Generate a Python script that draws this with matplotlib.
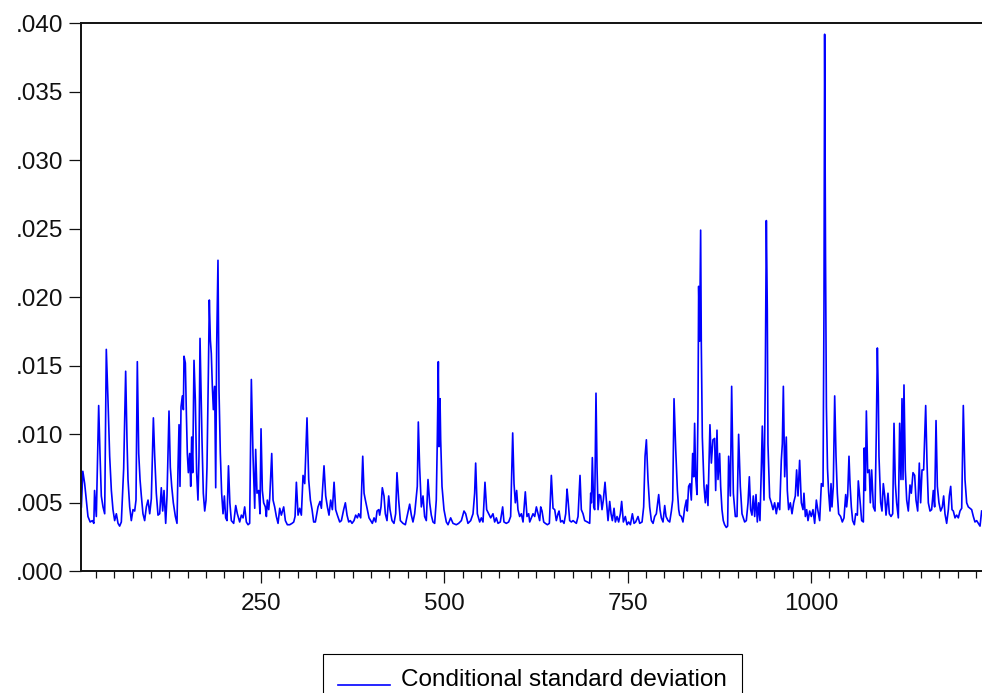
import matplotlib
matplotlib.use("Agg")
import matplotlib.pyplot as plt
from matplotlib.ticker import MultipleLocator, FixedLocator, FixedFormatter
from matplotlib.legend_handler import HandlerLine2D

plt.rcParams['font.family'] = ['Liberation Sans', 'DejaVu Sans']

obs_a = [5, 7, 9.5, 12, 14, 17, 20, 22, 23, 25.4, 28.6, 30.4, 32.2, 34.5, 36.8, 39, 41.3, 43.6, 45.9, 48.1,
         50.4, 52.7, 55, 57.2, 59.5, 62.7, 65.4, 67.2, 68.6, 70.9, 73.1, 75.4, 77.7, 79.5, 81.3, 83.2, 85, 86.8,
         89, 91.3, 93.6, 95.9, 98.2, 100.4, 103.2, 105, 107.2, 109.5, 111.8, 114, 115.9, 117.7, 120, 121.8,
         124.5, 126.3, 128.2, 130.4, 133.2, 135.4, 136.8, 138.2, 139.5, 140.9, 142.7, 144.1, 145, 146.8, 148.2,
         149.5, 150.9, 152.7, 154.1, 155.4, 156.8, 158.6, 160.4, 162.2, 164, 165.4, 166.8, 168.2, 169.5, 171.3,
         173.2, 175, 176.3, 178.2, 179.5, 180.9, 182.2, 183.6, 185, 186.8, 188.2, 189.5, 191.3, 192.7, 194.5,
         196.3, 198.2, 200, 201.8, 203.6, 205.6, 207.5, 209.5, 212.7, 215.5, 217.7, 220.9, 223.2, 225.5, 227.7,
         230, 232.3, 234.5, 236.8, 239.1, 241.4, 242.7, 244.5, 246.8, 248.6, 250, 251.8, 253.6, 255.9, 257.3,
         258.6, 260.5, 261.8, 264.6, 266.4, 268.6, 270.9, 273.2, 275.5, 277.7, 280.9, 283.2, 285.9, 289.1,
         292.3, 294.6, 296.4, 298.2, 300.5, 302.7, 305, 307.3, 309.6, 312.7, 315, 317.3, 319.6, 321.8, 324.1,
         327.7, 330.5, 332.3, 335.9, 338.2, 340.5, 342.7, 345, 347.3, 349.6, 351.8, 354.1, 357.3, 359.6, 362.7,
         365, 367.3, 369.6, 371.8, 374.1, 376.8, 379.1, 381.4, 383.2, 385.9, 388.7, 390.5, 392.3, 395, 397.3,
         399.6, 401.8, 404.1, 406.4, 408.2, 410.5]
sd_a = [.0047, .0073, .0064, .0051, .0040, .0036, .0037, .0035, .0059, .0040, .0121, .0086, .0055, .0047, .0042,
        .0162, .0125, .0084, .0059, .0045, .0037, .0042, .0035, .0033, .0036, .0075, .0146, .0096, .0067, .0047,
        .0037, .0045, .0044, .0052, .0153, .0086, .0067, .0055, .0042, .0037, .0047, .0052, .0042, .0053, .0112,
        .0084, .0057, .0041, .0042, .0061, .0044, .0059, .0035, .0055, .0117, .0076, .0062, .0050, .0040, .0035,
        .0076, .0107, .0062, .0120, .0128, .0118, .0157, .0152, .0115, .0086, .0072, .0086, .0062, .0098, .0072,
        .0154, .0125, .0072, .0052, .0084, .0170, .0132, .0096, .0057, .0044, .0052, .0076, .0145, .0198, .0169,
        .0159, .0135, .0118, .0135, .0061, .0164, .0227, .0132, .0086, .0057, .0042, .0055, .0039, .0037, .0077,
        .0050, .0037, .0035, .0048, .0042, .0036, .0041, .0039, .0047, .0036, .0034, .0035, .0140, .0084, .0046,
        .0089, .0057, .0059, .0042, .0104, .0059, .0050, .0047, .0040, .0052, .0045, .0053, .0086, .0052, .0047,
        .0040, .0035, .0046, .0041, .0047, .0037, .0034, .0034, .0035, .0036, .0040, .0065, .0041, .0046, .0041,
        .0070, .0064, .0112, .0067, .0052, .0045, .0036, .0036, .0047, .0051, .0046, .0077, .0055, .0047, .0041,
        .0052, .0045, .0065, .0045, .0041, .0036, .0037, .0045, .0050, .0041, .0036, .0037, .0035, .0037, .0041,
        .0039, .0042, .0039, .0084, .0057, .0052, .0045, .0039, .0037, .0035, .0039, .0036, .0044, .0045]

obs_b = [411.8, 413.6, 415.4, 417.7, 419.5, 421.8, 424.1, 425.9, 428.6, 431.3, 433.6, 435.4, 437.7, 440, 443.6,
         446.8, 449.5, 452.7, 455, 457.2, 459.5, 461.8, 463.1, 464.5, 466.3, 468.6, 470.9, 473.1, 475.4, 477.7,
         480, 482.2, 484.5, 486.8, 489, 490.4, 491.8, 492.7, 494.1, 495, 496.8, 499.5, 502.7, 505, 508.6, 511.8,
         516.3, 519.5, 523.2, 526.8, 529.1, 532.2, 535.9, 539.1, 541.3, 542.7, 545, 548.2, 550.4, 552.7, 555.4,
         557.7, 560.4, 563.2, 566.3, 568.6, 570.9, 573.2, 576.3, 579.5, 581.3, 584.5, 587.7, 590.4, 593.2, 595,
         596.8, 598.6, 600.4, 602.7, 605, 607.3, 610.4, 612.7, 615, 616.4, 618.6, 620.9, 623.2, 625.5, 627.7,
         630, 631.4, 633.2, 635.5, 637.7, 640.5, 643.2, 645.9, 648.2, 650.5, 652.7, 655, 656.4, 658.6, 660.9,
         663.2, 665.5, 667.3, 668.7, 670.9, 673.2, 675.5, 677.7, 680, 682.3, 685, 686.8, 689.1, 691.4, 695,
         698.2, 699.6, 700.5, 701.8, 703.7, 705, 706.8, 708.2, 709.6, 711.4, 713.2, 715, 716.8, 719.1, 720.9,
         723.2, 725.5, 727.3, 729.1, 731.4, 733.2, 735.5, 737.7, 740, 741.8, 744.1, 746.8, 749.1, 751.4, 753.7,
         756.4, 758.7, 760.9, 764.1, 766.4, 769.6, 771.8, 773.7, 775.5, 777.7, 780, 782.3, 784.6, 786.8, 789.1,
         792.3, 794.1, 795.9, 798.2, 800.5, 802.3, 805, 807.3, 809.6, 811.4, 813.2, 815.5, 817.8, 819.6]
sd_b = [.0041, .0047, .0061, .0055, .0042, .0037, .0055, .0045, .0037, .0035, .0042, .0072, .0052, .0037, .0035,
        .0034, .0041, .0049, .0041, .0036, .0042, .0055, .0062, .0109, .0076, .0047, .0055, .0040, .0037, .0067,
        .0050, .0041, .0036, .0035, .0052, .0096, .0153, .0091, .0126, .0096, .0062, .0045, .0036, .0034, .0039,
        .0035, .0034, .0035, .0037, .0044, .0042, .0035, .0037, .0042, .0057, .0079, .0042, .0036, .0039, .0036,
        .0065, .0045, .0042, .0039, .0042, .0036, .0039, .0035, .0036, .0047, .0036, .0035, .0036, .0040, .0101,
        .0064, .0050, .0059, .0045, .0040, .0042, .0036, .0058, .0040, .0042, .0036, .0039, .0042, .0040, .0047,
        .0042, .0037, .0047, .0044, .0036, .0035, .0034, .0035, .0070, .0046, .0045, .0037, .0042, .0044, .0036,
        .0037, .0035, .0042, .0060, .0052, .0037, .0036, .0037, .0036, .0035, .0040, .0070, .0045, .0042, .0037,
        .0036, .0035, .0057, .0050, .0083, .0047, .0045, .0130, .0076, .0045, .0056, .0055, .0045, .0052, .0065,
        .0052, .0037, .0051, .0042, .0037, .0046, .0036, .0040, .0036, .0042, .0051, .0036, .0040, .0034, .0036,
        .0034, .0042, .0035, .0036, .0040, .0035, .0036, .0047, .0084, .0096, .0067, .0047, .0037, .0035, .0040,
        .0042, .0056, .0045, .0039, .0036, .0048, .0040, .0037, .0036, .0044, .0052, .0126, .0089, .0059, .0045]

obs_c = [820.9, 823.1, 825.4, 827.7, 830, 831.3, 833.1, 835, 836.8, 838.6, 840, 841.3, 842.7, 844.5, 845.9,
         846.8, 848.1, 849.5, 850.4, 851.8, 854.1, 855.9, 857.7, 859.5, 862.2, 864.1, 866.3, 868.6, 870, 871.8,
         873.2, 875.4, 876.8, 878.6, 880.4, 882.2, 884.5, 886.3, 887.7, 890, 891.8, 894.1, 896.8, 899.1, 901.3,
         903.6, 905.9, 909.5, 911.8, 914.1, 915.9, 917.7, 919.5, 921.3, 923.2, 925, 926.8, 928.6, 930.4, 932.2,
         933.6, 935.9, 937.7, 939.1, 940.4, 941.3, 943.6, 945.9, 948.2, 950.4, 952.7, 955, 957.3, 959.5, 960.9,
         962.3, 964.1, 966.3, 967.7, 969.5, 971.8, 974.1, 976.3, 978.6, 980.4, 982.3, 984.5, 986.8, 989.1, 990.4,
         992.3, 994.1, 995.9, 998.2, 1000.4, 1002.7, 1005, 1007.3, 1009.5, 1011.8, 1014.1, 1016.4, 1017.7,
         1018.6, 1019.8, 1021, 1022.5, 1024, 1025.9, 1027.3, 1028.6, 1030.4, 1032.3, 1034.1, 1035.9, 1037.7,
         1040.4, 1042.7, 1045, 1047.3, 1048.6, 1050, 1051.8, 1053.2, 1055, 1056.8, 1059.1, 1060.9, 1063.2,
         1064.5, 1066.8, 1069.1, 1071.4, 1072.7, 1074.1, 1075.5, 1077.3, 1079.5, 1080.9, 1082.7, 1085, 1087.3,
         1089.1, 1090.5, 1091.8, 1092.7, 1095, 1096.8, 1098.6, 1100.5, 1102.3, 1105, 1106.8, 1109.1, 1111.4,
         1113.2, 1115, 1116.8, 1119.1, 1120.9, 1122.7, 1124.1, 1125.5, 1126.8, 1128.6, 1130.5, 1132.7, 1135,
         1136.8, 1139.1, 1141.4, 1143.2, 1145.5, 1147.7, 1149.5, 1151.4, 1153.6, 1156.4, 1158.2, 1160, 1162.3,
         1164.5, 1166.8, 1168.6, 1170.5, 1172.3, 1174.5, 1176.8, 1179.1, 1180.9, 1182.7, 1185, 1187.3, 1188.6,
         1190.5, 1192.3, 1194.1, 1196.4, 1198.6, 1200.9, 1203.2, 1205.5, 1207.7, 1210, 1212.3, 1214.5, 1216.8,
         1219.1, 1221.4, 1223.6, 1225.9, 1228.2, 1230.5, 1232.7]
sd_c = [.0041, .0040, .0036, .0046, .0052, .0044, .0062, .0064, .0052, .0086, .0069, .0108, .0069, .0056, .0118,
        .0208, .0168, .0249, .0166, .0098, .0062, .0050, .0063, .0048, .0107, .0079, .0096, .0097, .0059, .0103,
        .0067, .0086, .0062, .0045, .0037, .0034, .0032, .0033, .0084, .0055, .0135, .0057, .0040, .0040, .0100,
        .0062, .0042, .0036, .0037, .0050, .0069, .0045, .0041, .0055, .0040, .0056, .0036, .0050, .0037, .0074,
        .0106, .0052, .0142, .0256, .0191, .0093, .0054, .0050, .0045, .0050, .0042, .0050, .0045, .0081, .0093,
        .0135, .0069, .0098, .0059, .0045, .0050, .0042, .0050, .0055, .0074, .0055, .0081, .0050, .0045, .0057,
        .0040, .0045, .0037, .0044, .0040, .0045, .0035, .0052, .0044, .0037, .0064, .0062, .0191,
        .0392, .0230, .0120, .0075, .0058, .0044, .0064, .0047, .0062, .0128, .0084, .0057, .0042,
        .0040, .0036, .0039, .0056, .0047, .0055, .0084, .0064, .0047, .0037, .0034, .0042, .0041,
        .0066, .0052, .0037, .0036, .0090, .0059, .0117, .0072, .0074, .0050, .0074, .0047, .0044,
        .0103, .0163, .0128, .0084, .0050, .0044, .0064, .0055, .0041, .0057, .0042, .0040, .0042,
        .0108, .0064, .0050, .0039, .0108, .0067, .0126, .0067, .0136, .0074, .0052, .0044, .0063,
        .0057, .0072, .0070, .0052, .0044, .0079, .0050, .0074, .0074, .0121, .0079, .0050, .0044,
        .0045, .0059, .0047, .0110, .0062, .0050, .0044, .0047, .0055, .0042, .0035, .0045, .0055,
        .0062, .0045, .0044, .0039, .0041, .0039, .0044, .0046, .0121, .0067, .0050, .0047, .0046,
        .0045, .0040, .0036, .0037, .0035, .0033, .0044]

series_label = "Conditional standard deviation"
y_ticks = [0.000, 0.005, 0.010, 0.015, 0.020, 0.025, 0.030, 0.035, 0.040]
y_tick_labels = [".000", ".005", ".010", ".015", ".020", ".025", ".030", ".035", ".040"]
x_major_ticks = [250, 500, 750, 1000]

obs = obs_a + obs_b + obs_c
cond_sd = sd_a + sd_b + sd_c

# ---- figure ----
W, H = 982, 693
fig = plt.figure(figsize=(W / 100, H / 100), dpi=100)
left_px, right_px, top_px, bottom_px = 81, 985, 23.3, 571.3
ax = fig.add_axes([left_px / W, (H - bottom_px) / H, (right_px - left_px) / W, (bottom_px - top_px) / H])

line, = ax.plot(obs, cond_sd, color="#0000FF", linewidth=1.2, label=series_label)

px_per_obs = 0.7333
x0 = (left_px - 77.7) / px_per_obs
ax.set_xlim(x0, x0 + (right_px - left_px) / px_per_obs)
ax.set_ylim(0, 0.040)

ax.yaxis.set_major_locator(FixedLocator(y_ticks))
ax.yaxis.set_major_formatter(FixedFormatter(y_tick_labels))
ax.xaxis.set_major_locator(FixedLocator(x_major_ticks))
ax.xaxis.set_minor_locator(MultipleLocator(25))

for s in ax.spines.values():
    s.set_linewidth(1.4)
    s.set_color("#111111")
ax.spines["right"].set_visible(False)

FS = 17.5
ax.tick_params(axis="both", which="major", direction="out", length=8.5, width=0.9,
               labelsize=FS, pad=4.5, colors="#111111")
ax.tick_params(axis="x", which="minor", direction="out", length=5, width=0.9, colors="#111111")
ax.tick_params(axis="x", which="major", pad=7)


class BaselineLineHandler(HandlerLine2D):
    """Legend line drawn near the text baseline, as in the original."""
    def create_artists(self, legend, orig_handle, xdescent, ydescent, width, height, fontsize, trans):
        artists = super().create_artists(legend, orig_handle, xdescent, ydescent, width, height,
                                         fontsize, trans)
        for a in artists:
            yd = a.get_ydata()
            a.set_ydata([y - 0.3 * fontsize for y in yd])
        return artists


leg = fig.legend(handles=[line], labels=[series_label], loc="upper center",
                 bbox_to_anchor=(532.5 / W, (H - 654) / H), borderaxespad=0,
                 frameon=True, fancybox=False, shadow=False, framealpha=1,
                 edgecolor="black", fontsize=FS, handlelength=2.15, handletextpad=0.45,
                 borderpad=0.62, handler_map={line: BaselineLineHandler()})
leg.get_frame().set_linewidth(0.8)

fig.savefig("out.png", dpi=100)
